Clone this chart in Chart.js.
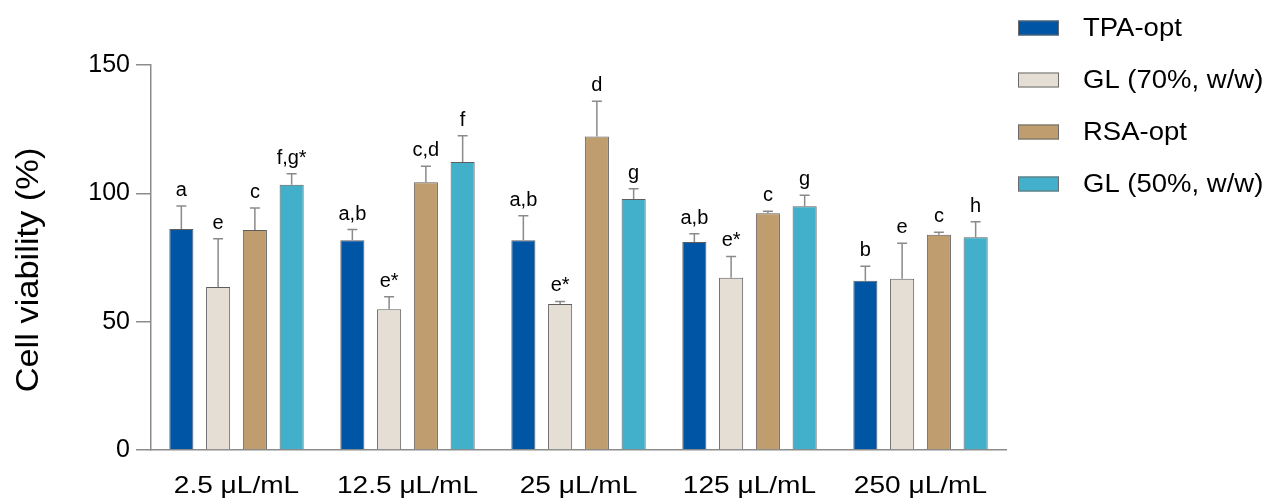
<!DOCTYPE html>
<html>
<head>
<meta charset="utf-8">
<title>Cell viability</title>
<script src="https://cdn.jsdelivr.net/npm/chart.js@4.4.0/dist/chart.umd.min.js"></script>
<style>
  html, body { margin: 0; padding: 0; background: #ffffff; }
  #wrap { width: 1267px; height: 500px; position: relative; }
</style>
</head>
<body>
<div id="wrap"><canvas id="c" width="1267" height="500"></canvas></div>
<script>
// Concentrations on the x axis
const concentrations = ['2.5 μL/mL', '12.5 μL/mL', '25 μL/mL', '125 μL/mL', '250 μL/mL'];
const seriesNames = ['TPA-opt', 'GL (70%, w/w)', 'RSA-opt', 'GL (50%, w/w)'];

// Mean cell viability (%) and standard deviation per formulation
const tpaMean  = [86.1, 81.7, 81.7, 81.0, 65.9];
const tpaErr   = [9.0, 4.2, 9.6, 3.3, 5.7];
const gl70Mean = [63.5, 54.8, 56.9, 67.1, 66.7];
const gl70Err  = [18.8, 4.9, 1.0, 8.3, 13.9];
const rsaMean  = [85.7, 104.3, 122.1, 92.2, 83.9];
const rsaErr   = [8.6, 6.3, 13.8, 0.8, 0.9];
const gl50Mean = [103.3, 112.2, 97.8, 95.0, 82.9];
const gl50Err  = [4.3, 10.2, 4.0, 4.3, 6.0];

// Statistical grouping letters shown above each bar
const tpaLetters  = ['a', 'a,b', 'a,b', 'a,b', 'b'];
const gl70Letters = ['e', 'e*', 'e*', 'e*', 'e'];
const rsaLetters  = ['c', 'c,d', 'd', 'c', 'c'];
const gl50Letters = ['f,g*', 'f', 'g', 'g', 'h'];

const yTicks = [0, 50, 100, 150];

const FONT = "'Liberation Sans', Arial, Helvetica, sans-serif";
const AXIS_GREY = '#8c8c8c';
const colors = ['#0055a4', '#e5ded5', '#c09d6e', '#42b0cb'];
const means = [tpaMean, gl70Mean, rsaMean, gl50Mean];
const errs = [tpaErr, gl70Err, rsaErr, gl50Err];
const letters = [tpaLetters, gl70Letters, rsaLetters, gl50Letters];

Chart.defaults.font.family = FONT;

const datasets = seriesNames.map((name, i) => ({
  label: name,
  data: means[i],
  errors: errs[i],
  letters: letters[i],
  backgroundColor: colors[i],
  borderColor: '#5e5e5e',
  borderWidth: 1,
  borderSkipped: 'bottom',
  categoryPercentage: 0.86,
  barPercentage: 0.655
}));

// Draws text with a horizontal stretch, matching the wide lettering of the figure
function wideText(ctx, text, x, y, sx) {
  ctx.save();
  ctx.translate(x, y);
  ctx.scale(sx, 1);
  ctx.fillText(text, 0, 0);
  ctx.restore();
}

// Error bars with caps and letter annotations above them
const errorBarPlugin = {
  id: 'errorBars',
  afterDatasetsDraw(chart) {
    const ctx = chart.ctx;
    const yScale = chart.scales.y;
    ctx.save();
    chart.data.datasets.forEach((ds, di) => {
      const meta = chart.getDatasetMeta(di);
      meta.data.forEach((bar, j) => {
        const top = yScale.getPixelForValue(ds.data[j] + ds.errors[j]);
        const x = bar.x;
        ctx.strokeStyle = '#8a8a8a';
        ctx.lineWidth = 1.5;
        ctx.beginPath();
        ctx.moveTo(x, bar.y);
        ctx.lineTo(x, top);
        ctx.moveTo(x - 5, top);
        ctx.lineTo(x + 5, top);
        ctx.stroke();

        ctx.fillStyle = '#000';
        ctx.font = '20px ' + FONT;
        ctx.textAlign = 'center';
        ctx.textBaseline = 'alphabetic';
        ctx.fillText(ds.letters[j], x, top - 10);
      });
    });
    ctx.restore();
  }
};

// Category labels, y axis title and the legend on the right
const decorPlugin = {
  id: 'decor',
  afterDraw(chart) {
    const ctx = chart.ctx;
    const xScale = chart.scales.x;

    ctx.save();
    ctx.fillStyle = '#000';
    ctx.font = '24px ' + FONT;
    ctx.textAlign = 'center';
    ctx.textBaseline = 'alphabetic';
    chart.data.labels.forEach((lab, i) => {
      wideText(ctx, lab, xScale.getPixelForTick(i), 493, 1.17);
    });
    ctx.restore();

    ctx.save();
    ctx.fillStyle = '#000';
    ctx.font = '31px ' + FONT;
    ctx.textAlign = 'center';
    ctx.textBaseline = 'middle';
    ctx.translate(29, 270);
    ctx.rotate(-Math.PI / 2);
    wideText(ctx, 'Cell viability (%)', 0, 0, 1.11);
    ctx.restore();

    ctx.save();
    const rowY = [28, 80, 132, 184];
    chart.data.datasets.forEach((ds, i) => {
      const y = rowY[i];
      ctx.fillStyle = ds.backgroundColor;
      ctx.fillRect(1018, y - 7.5, 41, 15);
      ctx.strokeStyle = '#6a6a6a';
      ctx.lineWidth = 1;
      ctx.strokeRect(1018.5, y - 7, 40, 14);
      ctx.fillStyle = '#000';
      ctx.font = '25px ' + FONT;
      ctx.textAlign = 'left';
      ctx.textBaseline = 'middle';
      wideText(ctx, ds.label, 1083, y + 1, 1.1);
    });
    ctx.restore();
  }
};

new Chart(document.getElementById('c'), {
  type: 'bar',
  data: { labels: concentrations, datasets },
  options: {
    responsive: false,
    devicePixelRatio: 1,
    animation: false,
    layout: { padding: { left: 0, right: 261, top: 65, bottom: 0 } },
    plugins: { legend: { display: false }, tooltip: { enabled: false } },
    scales: {
      x: {
        afterFit(scale) { scale.height = 50; },
        grid: { display: false, drawTicks: false },
        border: { color: AXIS_GREY, width: 1.5 },
        ticks: { display: false }
      },
      y: {
        min: 0,
        max: 150,
        afterFit(scale) { scale.width = 151; },
        afterBuildTicks(scale) { scale.ticks = yTicks.map(v => ({ value: v })); },
        grid: { drawOnChartArea: false, drawTicks: true, tickLength: 15, color: AXIS_GREY, lineWidth: 1.5 },
        border: { color: AXIS_GREY, width: 1.5 },
        ticks: { color: '#000', font: { size: 25 }, padding: 6 }
      }
    }
  },
  plugins: [errorBarPlugin, decorPlugin]
});
</script>
</body>
</html>
